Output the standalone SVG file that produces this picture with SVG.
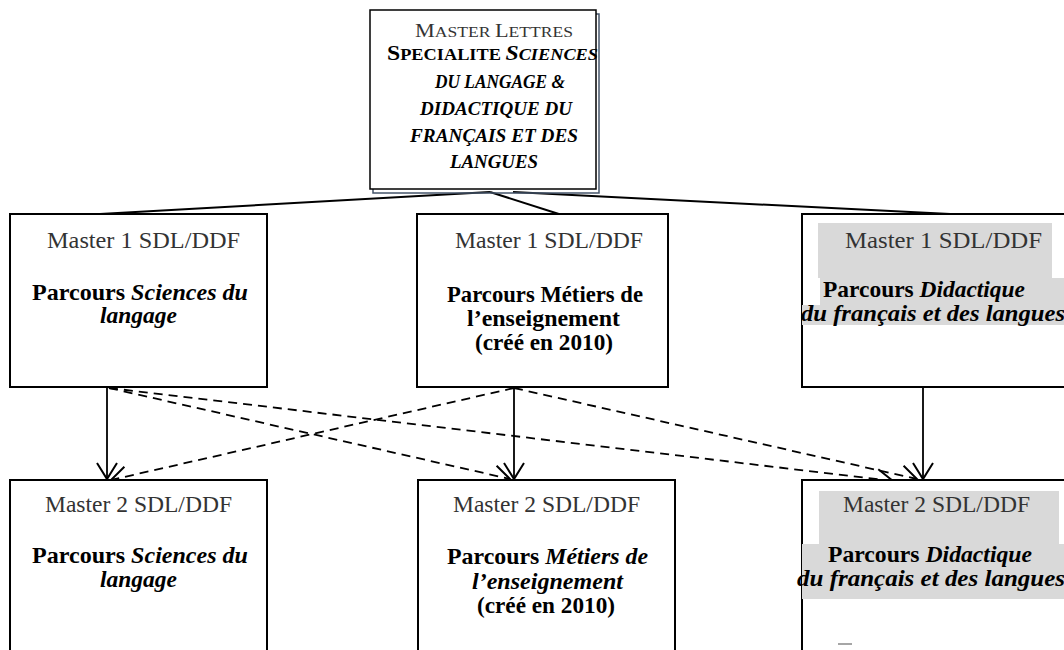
<svg xmlns="http://www.w3.org/2000/svg" width="1064" height="650" viewBox="0 0 1064 650">
<defs>
<marker id="vh" markerUnits="userSpaceOnUse" markerWidth="24" markerHeight="24" viewBox="-18 -12 20 24" refX="0" refY="0" orient="auto">
<path d="M-16,-10 L0,0 L-16,10" fill="none" stroke="#000" stroke-width="2"/>
</marker>
</defs>
<style>
.box{fill:#fff;stroke:#000;stroke-width:2}
.hl{fill:#d9d9d9;stroke:none}
.t{font-family:"Liberation Serif",serif;font-size:23px}
.m{fill:#333}
.b{font-weight:bold;fill:#000}
.i{font-style:italic}
.sc{font-family:"Liberation Serif",serif;font-size:18px}
.con{fill:none;stroke:#000;stroke-width:2}
.arr{fill:none;stroke:#000;stroke-width:1.8;marker-end:url(#vh)}
.dash{fill:none;stroke:#000;stroke-width:1.8;stroke-dasharray:9 6;marker-end:url(#vh)}
</style>
<rect width="1064" height="650" fill="#fff"/>

<g id="connectors">
<line class="con" x1="490" y1="192" x2="82" y2="215"/>
<line class="con" x1="490" y1="192" x2="562" y2="215"/>
<line class="con" x1="513" y1="192" x2="970" y2="215"/>
<line class="arr" x1="107" y1="387" x2="107" y2="479"/>
<line class="arr" x1="514" y1="387" x2="514" y2="479"/>
<line class="arr" x1="923" y1="387" x2="923" y2="479"/>
<line class="dash" x1="109" y1="388" x2="510" y2="479"/>
<line class="dash" x1="109" y1="388" x2="893" y2="481"/>
<line class="dash" x1="514" y1="388" x2="111" y2="480"/>
<line class="dash" x1="514" y1="388" x2="917" y2="479"/>
</g>

<g id="top">
<rect x="373" y="14" width="226" height="179" fill="none" stroke="#44546a" stroke-width="1.5"/>
<rect x="370" y="10" width="226" height="179" fill="#fff" stroke="#000" stroke-width="1.5"/>
<text class="m" x="415" y="37" textLength="158" lengthAdjust="spacingAndGlyphs" font-family="Liberation Serif, serif"><tspan font-size="19">M</tspan><tspan font-size="15">ASTER</tspan><tspan font-size="15"> </tspan><tspan font-size="19">L</tspan><tspan font-size="15">ETTRES</tspan></text>
<text x="387" y="60" textLength="211" lengthAdjust="spacingAndGlyphs" font-family="Liberation Serif, serif" font-weight="bold"><tspan font-size="22">S</tspan><tspan font-size="17">PECIALITE </tspan><tspan font-size="22" font-style="italic">S</tspan><tspan font-size="17" font-style="italic">CIENCES</tspan></text>
<text class="sc b i" x="435" y="88" textLength="130" lengthAdjust="spacingAndGlyphs">DU LANGAGE &amp;</text>
<text class="sc b i" x="420" y="115" textLength="152" lengthAdjust="spacingAndGlyphs">DIDACTIQUE DU</text>
<text class="sc b i" x="410" y="142" textLength="168" lengthAdjust="spacingAndGlyphs">FRANÇAIS ET DES</text>
<text class="sc b i" x="450" y="168" textLength="88" lengthAdjust="spacingAndGlyphs">LANGUES</text>
</g>

<g id="m1-sdl">
<rect class="box" x="10" y="214" width="257" height="173"/>
<text class="t m" x="47" y="248" textLength="193" lengthAdjust="spacingAndGlyphs">Master 1 SDL/DDF</text>
<text class="t b" x="32" y="300" textLength="216" lengthAdjust="spacingAndGlyphs">Parcours <tspan class="i">Sciences du</tspan></text>
<text class="t b i" x="100" y="323" textLength="77" lengthAdjust="spacingAndGlyphs">langage</text>
</g>

<g id="m1-me">
<rect class="box" x="417" y="214" width="251" height="173"/>
<text class="t m" x="455" y="248" textLength="188" lengthAdjust="spacingAndGlyphs">Master 1 SDL/DDF</text>
<text class="t b" x="447" y="302" textLength="196" lengthAdjust="spacingAndGlyphs">Parcours Métiers de</text>
<text class="t b" x="467" y="326" textLength="153" lengthAdjust="spacingAndGlyphs">l’enseignement</text>
<text class="t b" x="475" y="350" textLength="138" lengthAdjust="spacingAndGlyphs">(créé en 2010)</text>
</g>

<g id="m1-dfl">
<rect class="box" x="802" y="214" width="270" height="173"/>
<rect class="hl" x="818" y="223" width="234" height="55"/>
<rect class="hl" x="820" y="278" width="246" height="27"/>
<rect class="hl" x="802" y="305" width="264" height="20"/>
<text class="t m" x="845" y="248" textLength="197" lengthAdjust="spacingAndGlyphs">Master 1 SDL/DDF</text>
<text class="t b" x="823" y="297" textLength="202" lengthAdjust="spacingAndGlyphs" font-size="21">Parcours <tspan class="i">Didactique</tspan></text>
<text class="t b i" x="801" y="321" textLength="264" lengthAdjust="spacingAndGlyphs" font-size="21">du français et des langues</text>
</g>

<g id="m2-sdl">
<rect class="box" x="10" y="480" width="257" height="185"/>
<text class="t m" x="45" y="512" textLength="187" lengthAdjust="spacingAndGlyphs">Master 2 SDL/DDF</text>
<text class="t b" x="32" y="563" textLength="216" lengthAdjust="spacingAndGlyphs">Parcours <tspan class="i">Sciences du</tspan></text>
<text class="t b i" x="100" y="587" textLength="77" lengthAdjust="spacingAndGlyphs">langage</text>
</g>

<g id="m2-me">
<rect class="box" x="418" y="480" width="257" height="185"/>
<text class="t m" x="453" y="512" textLength="187" lengthAdjust="spacingAndGlyphs">Master 2 SDL/DDF</text>
<text class="t b" x="447" y="564" textLength="201" lengthAdjust="spacingAndGlyphs">Parcours <tspan class="i">Métiers de</tspan></text>
<text class="t b i" x="472" y="589" textLength="151" lengthAdjust="spacingAndGlyphs">l’enseignement</text>
<text class="t b" x="477" y="613" textLength="138" lengthAdjust="spacingAndGlyphs">(créé en 2010)</text>
</g>

<g id="m2-dfl">
<rect class="box" x="802" y="480" width="270" height="185"/>
<rect class="hl" x="819" y="491" width="240" height="53"/>
<rect class="hl" x="802" y="544" width="264" height="55"/>
<text class="t m" x="843" y="512" textLength="187" lengthAdjust="spacingAndGlyphs">Master 2 SDL/DDF</text>
<text class="t b" x="828" y="562" textLength="204" lengthAdjust="spacingAndGlyphs" font-size="21">Parcours <tspan class="i">Didactique</tspan></text>
<text class="t b i" x="797" y="586" textLength="268" lengthAdjust="spacingAndGlyphs" font-size="21">du français et des langues</text>
<line x1="838" y1="644" x2="852" y2="644" stroke="#888" stroke-width="1.5"/>
</g>
</svg>
